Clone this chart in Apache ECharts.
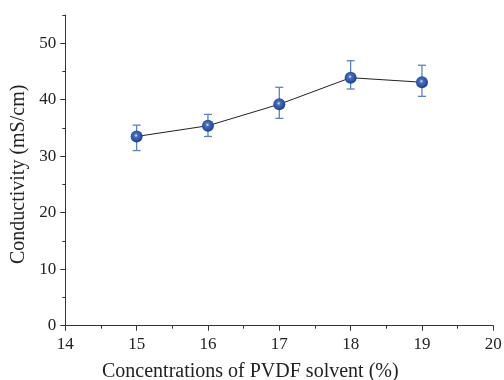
<!DOCTYPE html>
<html>
<head>
<meta charset="utf-8">
<script src="https://cdn.jsdelivr.net/npm/echarts@6/dist/echarts.min.js"></script>
<style>
html,body{margin:0;padding:0;background:#fff;}
#c{width:504px;height:380px;}
</style>
</head>
<body>
<div id="c"></div>
<script>
var concentrations = [15, 16, 17, 18, 19];
var conductivity = [33.5, 35.4, 39.2, 43.9, 43.1];
var errLow = [31.0, 33.5, 36.7, 41.9, 40.6];
var errHigh = [35.5, 37.4, 42.2, 46.9, 46.1];
var yMajorTicks = [0, 10, 20, 30, 40, 50];
var yMinorTicks = [5, 15, 25, 35, 45, 55];

var lineData = concentrations.map(function (c, i) { return [c, conductivity[i]]; });
var errData = concentrations.map(function (c, i) { return [c, errLow[i], errHigh[i]]; });

var font = '"Liberation Serif", "Times New Roman", serif';
var chart = echarts.init(document.getElementById('c'), null, {renderer: 'canvas'});

var errColor = '#5b82c6';

chart.setOption({
  animation: false,
  backgroundColor: '#ffffff',
  grid: {left: 65.3, right: 10.7, top: 15, bottom: 54.3, outerBoundsMode: 'none', containLabel: false},
  xAxis: {
    type: 'value', min: 14, max: 20, interval: 1,
    name: 'Concentrations of PVDF solvent (%)',
    nameLocation: 'middle', nameGap: 36,
    nameTextStyle: {fontFamily: font, fontSize: 20, color: '#222', padding: [0, 58, 0, 0]},
    axisLine: {show: true, onZero: false, lineStyle: {color: '#333', width: 1}},
    axisTick: {show: true, length: 5, lineStyle: {color: '#333', width: 1}},
    minorTick: {show: true, splitNumber: 2, length: 3, lineStyle: {color: '#333', width: 1}},
    axisLabel: {fontFamily: font, fontSize: 17, color: '#222', margin: 10},
    splitLine: {show: false}
  },
  yAxis: [{
    type: 'value', min: 0, max: 55, interval: 10,
    name: 'Conductivity (mS/cm)',
    nameLocation: 'middle', nameGap: 33,
    nameTextStyle: {fontFamily: font, fontSize: 20, color: '#222', padding: [0, 8, 0, 0]},
    axisLine: {show: true, lineStyle: {color: '#333', width: 1}},
    axisTick: {show: true, length: 5, customValues: yMajorTicks, lineStyle: {color: '#333', width: 1}},
    axisLabel: {fontFamily: font, fontSize: 17, color: '#222', margin: 9, customValues: yMajorTicks},
    splitLine: {show: false}
  }, {
    type: 'value', min: 0, max: 55, interval: 5, position: 'left',
    axisLine: {show: false},
    axisTick: {show: true, length: 3, customValues: yMinorTicks, lineStyle: {color: '#333', width: 1}},
    axisLabel: {show: false},
    splitLine: {show: false}
  }],
  series: [{
    type: 'custom',
    z: 1,
    data: errData,
    renderItem: function (params, api) {
      var x = api.value(0);
      var lo = api.coord([x, api.value(1)]);
      var hi = api.coord([x, api.value(2)]);
      var hw = 4;
      var style = {stroke: errColor, lineWidth: 1.3};
      return {
        type: 'group',
        children: [
          {type: 'line', shape: {x1: lo[0], y1: lo[1], x2: hi[0], y2: hi[1]}, style: style},
          {type: 'line', shape: {x1: lo[0] - hw, y1: lo[1], x2: lo[0] + hw, y2: lo[1]}, style: style},
          {type: 'line', shape: {x1: hi[0] - hw, y1: hi[1], x2: hi[0] + hw, y2: hi[1]}, style: style}
        ]
      };
    }
  }, {
    type: 'line',
    z: 2,
    data: lineData,
    symbol: 'circle',
    symbolSize: 12,
    lineStyle: {color: '#222', width: 1},
    itemStyle: {
      color: {
        type: 'radial', x: 0.45, y: 0.42, r: 0.6,
        colorStops: [
          {offset: 0, color: '#e8ecf8'},
          {offset: 0.25, color: '#4a6fc0'},
          {offset: 0.7, color: '#2850a6'},
          {offset: 1, color: '#1d4094'}
        ]
      },
      borderWidth: 0
    }
  }]
});
</script>
</body>
</html>
